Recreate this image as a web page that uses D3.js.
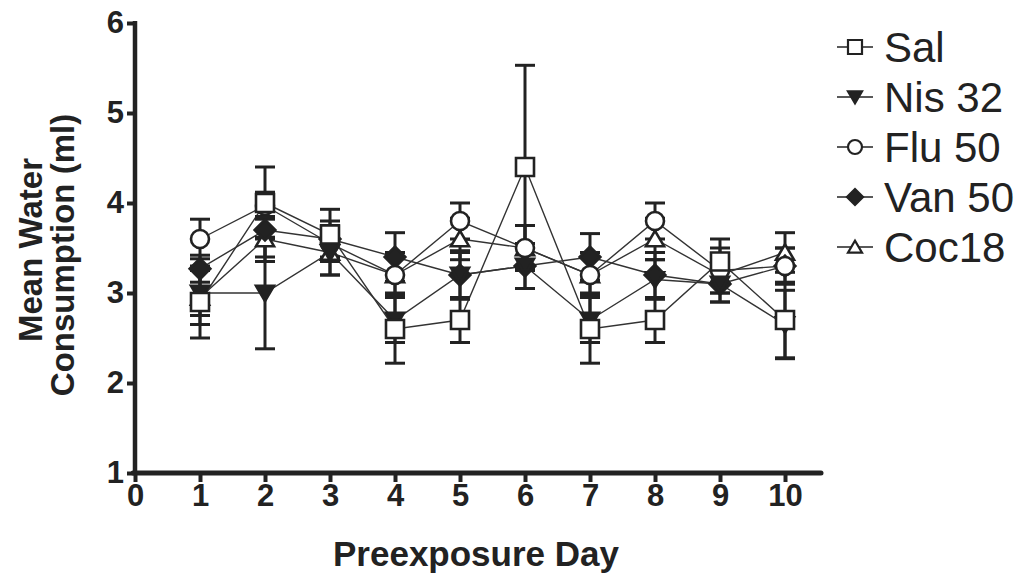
<!DOCTYPE html>
<html>
<head>
<meta charset="utf-8">
<script src="https://cdn.jsdelivr.net/npm/d3@7"></script>
<style>
  body { margin: 0; background: #fff; }
  text { font-family: "Liberation Sans", Arial, sans-serif; fill: #222; }
</style>
</head>
<body>
<svg id="chart" width="1035" height="585"></svg>
<script>
var days = [1, 2, 3, 4, 5, 6, 7, 8, 9, 10];
var xTicks = [0, 1, 2, 3, 4, 5, 6, 7, 8, 9, 10];
var yTicks = [1, 2, 3, 4, 5, 6];

var salMean = [2.9, 4.0, 3.65, 2.6, 2.7, 4.4, 2.6, 2.7, 3.35, 2.7];
var salErr  = [0.4, 0.4, 0.28, 0.38, 0.25, 1.13, 0.38, 0.25, 0.25, 0.42];
var nisMean = [3.0, 3.0, 3.45, 2.7, 3.2, 3.3, 2.7, 3.15, 3.1, 2.65];
var nisErr  = [0.25, 0.62, 0.25, 0.25, 0.27, 0.25, 0.25, 0.22, 0.2, 0.38];
var fluMean = [3.6, 3.97, 3.55, 3.2, 3.8, 3.5, 3.2, 3.8, 3.25, 3.3];
var fluErr  = [0.22, 0.15, 0.2, 0.25, 0.2, 0.25, 0.25, 0.2, 0.25, 0.2];
var vanMean = [3.27, 3.7, 3.6, 3.4, 3.2, 3.3, 3.4, 3.2, 3.1, 3.3];
var vanErr  = [0.15, 0.3, 0.2, 0.27, 0.25, 0.25, 0.26, 0.25, 0.2, 0.2];
var cocMean = [2.95, 3.6, 3.45, 3.2, 3.6, 3.5, 3.2, 3.6, 3.2, 3.45];
var cocErr  = [0.3, 0.25, 0.25, 0.2, 0.23, 0.25, 0.2, 0.23, 0.2, 0.22];

var series = [
  {name: "Sal", mean: salMean, err: salErr, shape: "square", fill: "#fff"},
  {name: "Nis 32", mean: nisMean, err: nisErr, shape: "down", fill: "#222"},
  {name: "Flu 50", mean: fluMean, err: fluErr, shape: "circle", fill: "#fff"},
  {name: "Van 50", mean: vanMean, err: vanErr, shape: "diamond", fill: "#222"},
  {name: "Coc18", mean: cocMean, err: cocErr, shape: "up", fill: "#fff"}
];
// draw order for markers: Sal ends on top
var drawOrder = [4, 3, 2, 1, 0];

var svg = d3.select("#chart");
var x = d3.scaleLinear().domain([0, 10]).range([135, 785]);
var y = d3.scaleLinear().domain([1, 6]).range([473, 23]);

// marker path, centred on 0,0
function marker(shape, s) {
  var h = s / 2;
  if (shape == "square") return "M" + (-h) + "," + (-h) + "h" + s + "v" + s + "h" + (-s) + "Z";
  if (shape == "circle") return "M" + (-h) + ",0a" + h + "," + h + " 0 1,0 " + s + ",0a" + h + "," + h + " 0 1,0 " + (-s) + ",0Z";
  if (shape == "diamond") return "M0," + (-h * 1.15) + "L" + (h * 1.15) + ",0L0," + (h * 1.15) + "L" + (-h * 1.15) + ",0Z";
  if (shape == "down") return "M" + (-h) + "," + (-h * 0.8) + "L" + h + "," + (-h * 0.8) + "L0," + (h * 0.9) + "Z";
  if (shape == "up") return "M" + (-h) + "," + (h * 0.8) + "L" + h + "," + (h * 0.8) + "L0," + (-h * 0.9) + "Z";
}

//lines
var line = d3.line()
  .x(function (d) { return x(d.day); })
  .y(function (d) { return y(d.v); });

series.forEach(function (s) {
  var pts = days.map(function (d, i) { return {day: d, v: s.mean[i], e: s.err[i]}; });
  s.pts = pts;
  svg.append("path")
    .attr("d", line(pts))
    .attr("fill", "none")
    .attr("stroke", "#333")
    .attr("stroke-width", 1.4);
});

//error bars
series.forEach(function (s) {
  var g = svg.append("g").attr("stroke", "#222").attr("stroke-width", 3);
  g.selectAll(".eb").data(s.pts).enter()
    .append("line")
    .attr("x1", function (d) { return x(d.day); })
    .attr("x2", function (d) { return x(d.day); })
    .attr("y1", function (d) { return y(d.v - d.e); })
    .attr("y2", function (d) { return y(d.v + d.e); });
  [1, -1].forEach(function (sign) {
    g.selectAll(".cap").data(s.pts).enter()
      .append("line")
      .attr("x1", function (d) { return x(d.day) - 10; })
      .attr("x2", function (d) { return x(d.day) + 10; })
      .attr("y1", function (d) { return y(d.v + sign * d.e); })
      .attr("y2", function (d) { return y(d.v + sign * d.e); });
  });
});

//markers
drawOrder.forEach(function (k) {
  var s = series[k];
  svg.selectAll(null).data(s.pts).enter()
    .append("path")
    .attr("d", marker(s.shape, 18))
    .attr("transform", function (d) { return "translate(" + x(d.day) + "," + y(d.v) + ")"; })
    .attr("fill", s.fill)
    .attr("stroke", "#222")
    .attr("stroke-width", 2.6);
});

//axes
var yAxis = d3.axisLeft(y).tickValues(yTicks).tickSize(8).tickPadding(3).tickFormat(d3.format("d"));
var xAxis = d3.axisBottom(x).tickValues(xTicks).tickSize(9).tickPadding(2).tickFormat(d3.format("d"));

var gy = svg.append("g").attr("transform", "translate(135,0)").call(yAxis);
var gx = svg.append("g").attr("transform", "translate(0,473)").call(xAxis);
[gx, gy].forEach(function (g) {
  g.attr("font-size", 31).attr("font-family", "Liberation Sans, Arial, sans-serif").attr("font-weight", "bold");
  g.select(".domain").remove();
  g.selectAll(".tick line").attr("stroke", "#222").attr("stroke-width", 4);
  g.selectAll(".tick text").attr("fill", "#222");
});
svg.append("line").attr("x1", 135).attr("x2", 135).attr("y1", 21).attr("y2", 475)
  .attr("stroke", "#222").attr("stroke-width", 4.5);
svg.append("line").attr("x1", 133).attr("x2", 821).attr("y1", 473).attr("y2", 473)
  .attr("stroke", "#222").attr("stroke-width", 5).attr("stroke-linecap", "round");

//axis titles
svg.append("text").attr("x", 476).attr("y", 566).attr("text-anchor", "middle")
  .style("font-size", "35px").style("font-weight", "bold").text("Preexposure Day");
svg.append("text").attr("transform", "translate(42,250) rotate(-90)").attr("text-anchor", "middle")
  .style("font-size", "33px").style("font-weight", "bold").text("Mean Water");
svg.append("text").attr("transform", "translate(74,255) rotate(-90)").attr("text-anchor", "middle")
  .style("font-size", "33px").style("font-weight", "bold").text("Consumption (ml)");

//legend
var legend = svg.selectAll(".legend").data(series).enter()
  .append("g")
  .attr("transform", function (d, i) { return "translate(855," + (47 + i * 50) + ")"; });
legend.append("line").attr("x1", -18).attr("x2", 18).attr("stroke", "#222").attr("stroke-width", 1.6);
legend.append("path")
  .attr("d", function (d) { return marker(d.shape, 14); })
  .attr("fill", function (d) { return d.fill; })
  .attr("stroke", "#222").attr("stroke-width", 2.2);
legend.append("text").attr("x", 29).attr("dy", "0.36em")
  .style("font-size", "42px").text(function (d) { return d.name; });
</script>
</body>
</html>
